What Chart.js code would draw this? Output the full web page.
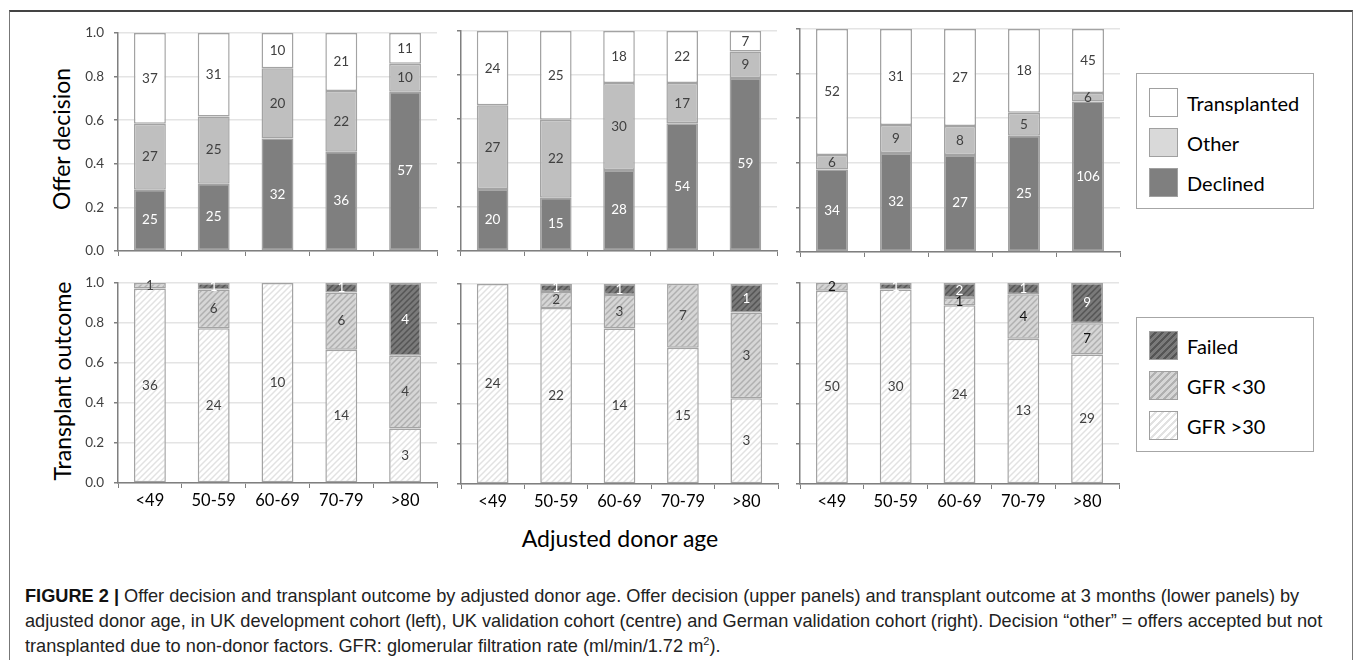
<!DOCTYPE html>
<html>
<head>
<meta charset="utf-8">
<script src="https://cdn.jsdelivr.net/npm/chart.js@4.4.0/dist/chart.umd.min.js"></script>
<style>
  body { margin: 0; background: #fff; width: 1355px; height: 660px; overflow: hidden; position: relative; font-family: Lato, sans-serif; }
  #frame { position: absolute; left: 9px; top: 10px; width: 1344px; height: 700px; border: 1px solid #777; border-top: 2px solid #444; box-sizing: border-box; }
  canvas { position: absolute; }
  .atitle { position: absolute; font-size: 23px; color: #000; white-space: nowrap; transform: translate(-50%, -50%); }
  .rot { transform: translate(-50%, -50%) rotate(-90deg); }
  .legend { position: absolute; left: 1136px; width: 178px; border: 1.5px solid #a6a6a6; box-sizing: border-box; }
  .item { position: absolute; left: 12px; height: 29px; display: flex; align-items: center; font-size: 20px; color: #000; white-space: nowrap; }
  .sw { width: 29px; height: 29px; box-sizing: border-box; border: 1.5px solid #a0a0a0; margin-right: 9px; }
  #caption { position: absolute; left: 25px; top: 584px; font-family: "Liberation Sans", Arial, sans-serif; font-size: 18.2px; line-height: 25px; color: #222; white-space: nowrap; }
  #caption b { color: #111; }
</style>
</head>
<body>
<div id="frame"></div>

<div class="atitle rot" style="left:61px; top:139px;">Offer decision</div>
<div class="atitle rot" style="left:62px; top:381px;">Transplant outcome</div>
<div class="atitle" style="left:620px; top:538px;">Adjusted donor age</div>

<div class="legend" style="top:73px; height:136px;">
  <div class="item" style="top:14px;"><div class="sw" style="background:#fff"></div>Transplanted</div>
  <div class="item" style="top:54px;"><div class="sw" style="background:#d9d9d9"></div>Other</div>
  <div class="item" style="top:94px;"><div class="sw" style="background:#7f7f7f"></div>Declined</div>
</div>
<div class="legend" style="top:317px; height:135px;">
  <div class="item" style="top:13px;"><div class="sw" style="background:repeating-linear-gradient(135deg,#7a7a7a 0 3px,#555 3px 5px)"></div>Failed</div>
  <div class="item" style="top:53px;"><div class="sw" style="background:repeating-linear-gradient(135deg,#d6d6d6 0 3px,#b0b0b0 3px 5px)"></div>GFR &lt;30</div>
  <div class="item" style="top:93px;"><div class="sw" style="background:repeating-linear-gradient(135deg,#fff 0 3px,#e2e2e2 3px 5px)"></div>GFR &gt;30</div>
</div>

<div id="caption"><b>FIGURE 2 |</b> Offer decision and transplant outcome by adjusted donor age. Offer decision (upper panels) and transplant outcome at 3 months (lower panels) by<br>adjusted donor age, in UK development cohort (left), UK validation cohort (centre) and German validation cohort (right). Decision “other” = offers accepted but not<br>transplanted due to non-donor factors. GFR: glomerular filtration rate (ml/min/1.72 m<sup style="font-size:11px;line-height:0">2</sup>).</div>

<script>
// categories
const ageGroups = ['<49', '50-59', '60-69', '70-79', '>80'];
const yTicks = [0, 0.2, 0.4, 0.6, 0.8, 1.0];

// offer decision counts
const declinedDev = [25, 25, 32, 36, 57];
const otherDev = [27, 25, 20, 22, 10];
const transplantedDev = [37, 31, 10, 21, 11];

const declinedUkVal = [20, 15, 28, 54, 59];
const otherUkVal = [27, 22, 30, 17, 9];
const transplantedUkVal = [24, 25, 18, 22, 7];

const declinedDe = [34, 32, 27, 25, 106];
const otherDe = [6, 9, 8, 5, 6];
const transplantedDe = [52, 31, 27, 18, 45];

// transplant outcome counts
const gfrHighDev = [36, 24, 10, 14, 3];
const gfrLowDev = [1, 6, 0, 6, 4];
const failedDev = [0, 1, 0, 1, 4];

const gfrHighUkVal = [24, 22, 14, 15, 3];
const gfrLowUkVal = [0, 2, 3, 7, 3];
const failedUkVal = [0, 1, 1, 0, 1];

const gfrHighDe = [50, 30, 24, 13, 29];
const gfrLowDe = [2, 0, 1, 4, 7];
const failedDe = [0, 1, 2, 1, 9];

function hatch(bg, fg) {
  const t = 6;
  const c = document.createElement('canvas');
  c.width = t; c.height = t;
  const x = c.getContext('2d');
  x.fillStyle = bg; x.fillRect(0, 0, t, t);
  x.strokeStyle = fg; x.lineWidth = 1.5;
  x.beginPath();
  x.moveTo(0, t); x.lineTo(t, 0);
  x.moveTo(-1, 1); x.lineTo(1, -1);
  x.moveTo(t - 1, t + 1); x.lineTo(t + 1, t - 1);
  x.stroke();
  return x.createPattern(c, 'repeat');
}

// writes the count in the middle of each segment
const countLabels = {
  id: 'countLabels',
  afterDatasetsDraw(chart) {
    const ctx = chart.ctx;
    ctx.save();
    ctx.font = '13.5px Lato';
    ctx.textAlign = 'center';
    ctx.textBaseline = 'middle';
    chart.data.datasets.forEach((ds, i) => {
      chart.getDatasetMeta(i).data.forEach((bar, j) => {
        const n = ds.counts[j];
        if (!n) return;
        ctx.fillStyle = ds.labelColor;
        ctx.fillText(String(n), bar.x, (bar.y + bar.base) / 2);
      });
    });
    ctx.restore();
  }
};

function makePanel(box, sets, showY, showX) {
  const Yw = 45, padTop = 20, padRight = 6, Xh = showX ? 36 : 20;
  const cv = document.createElement('canvas');
  cv.width = Yw + (box.right - box.ax) + padRight;
  cv.height = padTop + (box.bottom - box.top) + Xh;
  cv.style.left = (box.ax - Yw) + 'px';
  cv.style.top = (box.top - padTop) + 'px';
  document.body.appendChild(cv);

  const totals = ageGroups.map((_, j) => sets.reduce((s, d) => s + d.counts[j], 0));

  new Chart(cv, {
    type: 'bar',
    data: {
      labels: ageGroups,
      datasets: sets.map(d => ({
        label: d.label,
        counts: d.counts,
        labelColor: d.text,
        data: d.counts.map((n, j) => n / totals[j]),
        backgroundColor: d.fill,
        borderColor: '#a3a3a3',
        borderWidth: 1.5,
        borderSkipped: false,
        barPercentage: 0.5,
        categoryPercentage: 1
      }))
    },
    options: {
      responsive: false,
      animation: false,
      devicePixelRatio: 1,
      layout: { padding: { top: padTop, right: padRight, left: 0, bottom: 0 } },
      plugins: { legend: { display: false }, tooltip: { enabled: false } },
      scales: {
        x: {
          stacked: true,
          afterFit: s => { s.height = Xh; },
          grid: { drawOnChartArea: false, tickLength: 5, tickColor: '#7f7f7f', offset: true },
          border: { color: '#7f7f7f', width: 1.5 },
          ticks: { display: showX, color: '#000', font: { family: 'Lato', size: 16.5 }, padding: 3, maxRotation: 0, autoSkip: false }
        },
        y: {
          stacked: true,
          min: 0,
          max: 1,
          afterFit: s => { s.width = Yw; },
          afterBuildTicks: s => { s.ticks = yTicks.map(v => ({ value: v })); },
          grid: { color: '#e4e4e4', lineWidth: 1.5, tickLength: 4, tickColor: '#7f7f7f' },
          border: { color: '#7f7f7f', width: 1.5 },
          ticks: { display: showY, color: '#404040', padding: 10, font: { family: 'Lato', size: 13.5 }, callback: v => v.toFixed(1) }
        }
      }
    },
    plugins: [countLabels]
  });
}

const fills = {
  declined: '#7f7f7f',
  other: '#bfbfbf',
  transplanted: '#ffffff',
  failed: hatch('#7a7a7a', '#555555'),
  gfrLow: hatch('#d6d6d6', '#b0b0b0'),
  gfrHigh: hatch('#ffffff', '#e2e2e2')
};

function offerSets(dec, oth, tx) {
  return [
    { label: 'Declined', counts: dec, fill: fills.declined, text: '#ffffff' },
    { label: 'Other', counts: oth, fill: fills.other, text: '#404040' },
    { label: 'Transplanted', counts: tx, fill: fills.transplanted, text: '#404040' }
  ];
}
function outcomeSets(hi, lo, fail, loText) {
  return [
    { label: 'GFR >30', counts: hi, fill: fills.gfrHigh, text: '#404040' },
    { label: 'GFR <30', counts: lo, fill: fills.gfrLow, text: loText || '#404040' },
    { label: 'Failed', counts: fail, fill: fills.failed, text: '#ffffff' }
  ];
}

makePanel({ ax: 118, right: 437, top: 33, bottom: 251 }, offerSets(declinedDev, otherDev, transplantedDev), true, false);
makePanel({ ax: 461, right: 777, top: 31, bottom: 251 }, offerSets(declinedUkVal, otherUkVal, transplantedUkVal), false, false);
makePanel({ ax: 800, right: 1120, top: 29, bottom: 252 }, offerSets(declinedDe, otherDe, transplantedDe), false, false);

makePanel({ ax: 118, right: 437, top: 283, bottom: 483 }, outcomeSets(gfrHighDev, gfrLowDev, failedDev), true, true);
makePanel({ ax: 461, right: 778, top: 284, bottom: 484 }, outcomeSets(gfrHighUkVal, gfrLowUkVal, failedUkVal), false, true);
makePanel({ ax: 800, right: 1119, top: 283, bottom: 484 }, outcomeSets(gfrHighDe, gfrLowDe, failedDe, '#111111'), false, true);
</script>
</body>
</html>
